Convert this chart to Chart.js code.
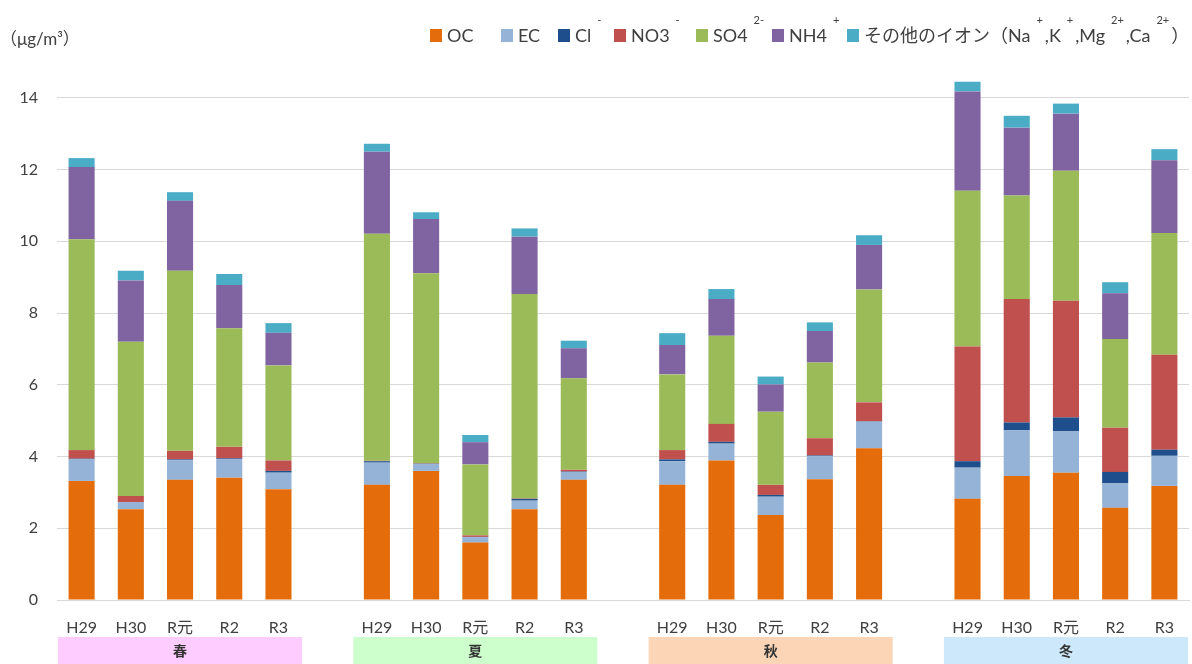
<!DOCTYPE html>
<html>
<head>
<meta charset="utf-8">
<script src="https://cdn.jsdelivr.net/npm/chart.js@4"></script>
<style>
    body { margin: 0; background: #fff; }
    canvas { display: block; }
</style>
</head>
<body>
<canvas id="chart" width="1192" height="664"></canvas>
<script>
const years = ['H29', 'H30', 'R元', 'R2', 'R3'];
const seasons = ['春', '夏', '秋', '冬'];
const seasonColors = ['#FFCCFF', '#CCFFCC', '#FBD5B5', '#CCE8FA'];

// order: 春 H29..R3, 夏 H29..R3, 秋 H29..R3, 冬 H29..R3
const ocValues = [3.32, 2.53, 3.35, 3.41, 3.09, 3.21, 3.60, 1.60, 2.53, 3.35, 3.21, 3.89, 2.37, 3.37, 4.23, 2.82, 3.46, 3.55, 2.57, 3.18];
const ecValues = [0.60, 0.19, 0.55, 0.52, 0.46, 0.62, 0.19, 0.15, 0.24, 0.22, 0.66, 0.47, 0.51, 0.64, 0.74, 0.87, 1.27, 1.15, 0.68, 0.84];
const clValues = [0.02, 0.01, 0.02, 0.02, 0.05, 0.04, 0.01, 0.01, 0.05, 0.01, 0.05, 0.05, 0.05, 0.02, 0.01, 0.18, 0.22, 0.39, 0.32, 0.17];
const no3Values = [0.24, 0.17, 0.24, 0.32, 0.29, 0.01, 0.01, 0.04, 0.01, 0.05, 0.26, 0.50, 0.28, 0.48, 0.53, 3.20, 3.44, 3.25, 1.23, 2.65];
const so4Values = [5.88, 4.30, 5.02, 3.31, 2.65, 6.33, 5.30, 1.98, 5.70, 2.55, 2.11, 2.46, 2.04, 2.11, 3.15, 4.34, 2.89, 3.63, 2.48, 3.39];
const nh4Values = [2.01, 1.71, 1.95, 1.20, 0.91, 2.29, 1.51, 0.62, 1.60, 0.84, 0.82, 1.02, 0.76, 0.88, 1.24, 2.77, 1.89, 1.59, 1.27, 2.03];
const otherValues = [0.25, 0.27, 0.24, 0.31, 0.27, 0.22, 0.19, 0.20, 0.23, 0.21, 0.33, 0.28, 0.22, 0.24, 0.27, 0.27, 0.33, 0.28, 0.31, 0.31];

const yMax = 15;
const yStep = 2;

const textColor = '#404040';
const latin = "Lato, 'Noto Sans CJK JP', sans-serif";

// one empty slot between seasons
const labels = [];
seasons.forEach((s, i) => {
    years.forEach(y => labels.push(y));
    if (i < seasons.length - 1) labels.push('');
});

function withGaps(values) {
    const out = [];
    seasons.forEach((s, i) => {
        out.push(...values.slice(i * years.length, (i + 1) * years.length));
        if (i < seasons.length - 1) out.push(null);
    });
    return out;
}

const series = [
    { label: 'OC', data: ocValues, color: '#E46C0A' },
    { label: 'EC', data: ecValues, color: '#95B3D7' },
    { label: 'Cl', data: clValues, color: '#1F4E8C' },
    { label: 'NO3', data: no3Values, color: '#C0504D' },
    { label: 'SO4', data: so4Values, color: '#9BBB59' },
    { label: 'NH4', data: nh4Values, color: '#8064A2' },
    { label: 'その他のイオン', data: otherValues, color: '#4BACC6' }
];

// legend pieces: [text, superscript]
const legendItems = [
    { x: 430, parts: [['OC', '']] },
    { x: 501, parts: [['EC', '']] },
    { x: 558, parts: [['Cl', '-']] },
    { x: 614, parts: [['NO3', '-']] },
    { x: 696, parts: [['SO4', '2-']] },
    { x: 772, parts: [['NH4', '+']] },
    { x: 847, parts: [['その他のイオン（Na', '+'], [',K', '+'], [',Mg', '2+'], [',Ca', '2+'], ['）', '']] }
];

const decorations = {
    id: 'decorations',
    afterDraw(chart) {
        const ctx = chart.ctx;
        const x = chart.scales.x;
        ctx.save();

        // unit label
        ctx.fillStyle = textColor;
        ctx.font = "17px " + latin;
        ctx.textBaseline = 'middle';
        ctx.textAlign = 'left';
        ctx.fillText('（μg/m³）', 0, 40);

        // legend
        const legendY = 36;
        legendItems.forEach((item, i) => {
            ctx.fillStyle = series[i].color;
            ctx.fillRect(item.x, legendY - 7, 12, 13);
            let tx = item.x + 17;
            item.parts.forEach(([txt, sup]) => {
                ctx.fillStyle = textColor;
                ctx.font = "18px " + latin;
                ctx.fillText(txt, tx, legendY);
                tx += ctx.measureText(txt).width;
                if (sup) {
                    ctx.font = "11px " + latin;
                    tx += 6;
                    ctx.fillText(sup, tx, legendY - 16);
                    tx += ctx.measureText(sup).width + 2;
                }
            });
        });

        // season boxes under the axis
        const slot = x.width / labels.length;
        seasons.forEach((s, i) => {
            const first = i * (years.length + 1);
            const left = x.getPixelForValue(first) - slot / 2 + 1;
            const right = x.getPixelForValue(first + years.length - 1) + slot / 2 - 1;
            ctx.fillStyle = seasonColors[i];
            ctx.fillRect(left, 637, right - left, 27);
            ctx.fillStyle = '#333';
            ctx.font = "bold 14px 'Noto Sans CJK JP', sans-serif";
            ctx.textAlign = 'center';
            ctx.fillText(s, (left + right) / 2, 651);
            ctx.textAlign = 'left';
        });

        ctx.restore();
    }
};

new Chart(document.getElementById('chart'), {
    type: 'bar',
    data: {
        labels: labels,
        datasets: series.map(s => ({
            label: s.label,
            data: withGaps(s.data),
            backgroundColor: s.color,
            borderWidth: 0,
            barPercentage: 0.53,
            categoryPercentage: 1
        }))
    },
    options: {
        responsive: false,
        animation: false,
        layout: { padding: { top: 62, left: 0, right: 3, bottom: 24 } },
        plugins: {
            legend: { display: false },
            tooltip: { enabled: false }
        },
        scales: {
            x: {
                stacked: true,
                afterFit: axis => { axis.height = 40; },
                grid: { display: false },
                border: { display: true, color: '#d9d9d9' },
                ticks: {
                    color: textColor,
                    font: { family: latin, size: 16 },
                    padding: 10,
                    autoSkip: false,
                    maxRotation: 0
                }
            },
            y: {
                stacked: true,
                min: 0,
                max: yMax,
                afterBuildTicks: axis => {
                    axis.ticks = axis.ticks.filter(t => t.value <= yMax - 1);
                },
                afterFit: axis => { axis.width = 57; },
                grid: { color: '#d9d9d9', drawTicks: false },
                border: { display: false },
                ticks: {
                    stepSize: yStep,
                    color: textColor,
                    font: { family: latin, size: 16 },
                    padding: 19
                }
            }
        }
    },
    plugins: [decorations]
});
</script>
</body>
</html>
